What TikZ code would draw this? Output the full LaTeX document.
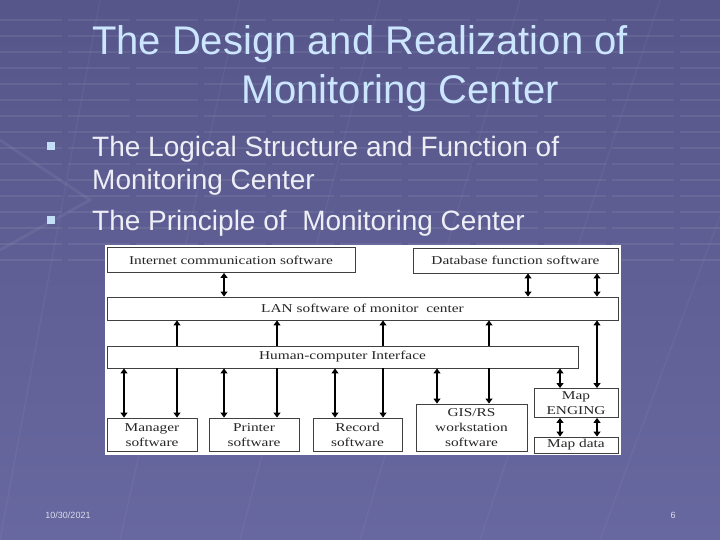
\documentclass[tikz,border=0pt]{standalone}
\usepackage{fontspec}
\setmainfont{Liberation Sans}
\newfontfamily\dgmfont[FakeStretch=1.28]{Liberation Serif}
\usetikzlibrary{arrows.meta}
\definecolor{bgtop}{HTML}{56568A}
\definecolor{bgbot}{HTML}{6868A0}
\definecolor{titlecol}{HTML}{CCE6FF}
\definecolor{textcol}{HTML}{EEEEF6}
\definecolor{bulletcol}{HTML}{C4DEF8}
\definecolor{footcol}{HTML}{DCDCEC}
\begin{document}
\begin{tikzpicture}[x=1pt,y=-1pt,
  box/.style={draw=black!75, line width=0.9pt, fill=white, inner sep=1pt, align=center,
    font=\dgmfont\fontsize{12}{15}\selectfont, text=black!85},
  dar/.style={line width=1.1pt, {Triangle[width=7pt,length=5pt]}-{Triangle[width=7pt,length=5pt]}},
  uar/.style={line width=1.1pt, -{Triangle[width=7pt,length=5pt]}},
  grid/.style={white, opacity=0.07, line width=2pt, dash pattern=on 62pt off 6pt}]
\useasboundingbox (0,0) rectangle (720,540);
% background
\shade[top color=bgtop, bottom color=bgbot] (0,0) rectangle (720,540);
\foreach \y in {20,36,...,260} {\draw[grid] (0,\y) -- (720,\y);}
\foreach \a/\b in {0/-200,120/-60,240/80,360/220,480/360,600/500,720/640} {\draw[white, opacity=0.04, line width=1.5pt] (\a,540) -- (\b+300,0);}
\draw[white, opacity=0.06, line width=3pt] (0,250) -- (90,200) -- (0,140);
% title
\node[text=titlecol, font=\fontsize{40}{48}\selectfont, anchor=base] (t1) at (360,55) {The Design and Realization of};
\node[text=titlecol, font=\fontsize{40}{48}\selectfont, anchor=base] (t2) at (400,104) {Monitoring Center};
% bullets
\node[fill=bulletcol, minimum size=8pt, inner sep=0pt] (b1) at (51,146) {};
\node[fill=bulletcol, minimum size=8pt, inner sep=0pt] (b2) at (51,220) {};
\node[text=textcol, font=\fontsize{28}{34}\selectfont, anchor=base west, inner sep=0pt] (l1) at (92,157) {The Logical Structure and Function of};
\node[text=textcol, font=\fontsize{28}{34}\selectfont, anchor=base west, inner sep=0pt] (l2) at (92,190) {Monitoring Center};
\node[text=textcol, font=\fontsize{28}{34}\selectfont, anchor=base west, inner sep=0pt] (l3) at (92,230) {The Principle of\ \ Monitoring Center};
% footer
\node[text=footcol, font=\fontsize{9}{11}\selectfont] (date) at (68,515) {10/30/2021};
\node[text=footcol, font=\fontsize{9}{11}\selectfont] (pg) at (673,515) {6};
% diagram canvas
\fill[white] (105,245) rectangle (621,455);
% boxes
\node[box, minimum width=248pt, minimum height=25pt] (inet) at (231,260) {Internet communication software};
\node[box, minimum width=205pt, minimum height=25pt] (db) at (515.5,260.5) {Database function software};
\node[box, minimum width=511pt, minimum height=23pt] (lan) at (362.5,308.5) {LAN software of monitor\ \ center};
\node[box, minimum width=471pt, minimum height=22pt] (hci) at (342.5,357) {Human-computer Interface};
\node[box, minimum width=90pt, minimum height=33pt] (mgr) at (152,434.5) {Manager\vphantom{d}\\software};
\node[box, minimum width=90pt, minimum height=33pt] (prn) at (254,434.5) {Printer\vphantom{dg}\\software};
\node[box, minimum width=89pt, minimum height=33pt] (rec) at (357.5,434.5) {Record\vphantom{g}\\software};
\node[box, minimum width=111pt, minimum height=47pt] (gis) at (471.5,427.5) {GIS/RS\\workstation\\software};
\node[box, minimum width=84pt, minimum height=29pt] (eng) at (576,403) {Map\\ENGING};
\node[box, minimum width=84pt, minimum height=16pt, inner sep=0pt] (mdat) at (576,445) {Map data};
% column coordinates
\foreach \n/\x in {c124/124,c177/177,c224/224,c277/277,c335/335,c383/383,c437/437,c489/489,c528/528,c560/560,c597/597}
  {\coordinate (\n) at (\x,0);}
% connectors
\draw[dar] (inet.south -| c224) -- (lan.north -| c224);
\draw[dar] (db.south -| c528) -- (lan.north -| c528);
\draw[dar] (db.south -| c597) -- (lan.north -| c597);
\foreach \c/\b in {c177/mgr,c277/prn,c383/rec,c489/gis} {
  \draw[uar] (hci.north -| \c) -- (lan.south -| \c);
  \draw[uar] (hci.south -| \c) -- (\b.north -| \c);
}
\draw[dar] (lan.south -| c597) -- (eng.north -| c597);
\draw[dar] (hci.south -| c124) -- (mgr.north -| c124);
\draw[dar] (hci.south -| c224) -- (prn.north -| c224);
\draw[dar] (hci.south -| c335) -- (rec.north -| c335);
\draw[dar] (hci.south -| c437) -- (gis.north -| c437);
\draw[dar] (hci.south -| c560) -- (eng.north -| c560);
\draw[dar] (eng.south -| c560) -- (mdat.north -| c560);
\draw[dar] (eng.south -| c597) -- (mdat.north -| c597);
\end{tikzpicture}
\end{document}
